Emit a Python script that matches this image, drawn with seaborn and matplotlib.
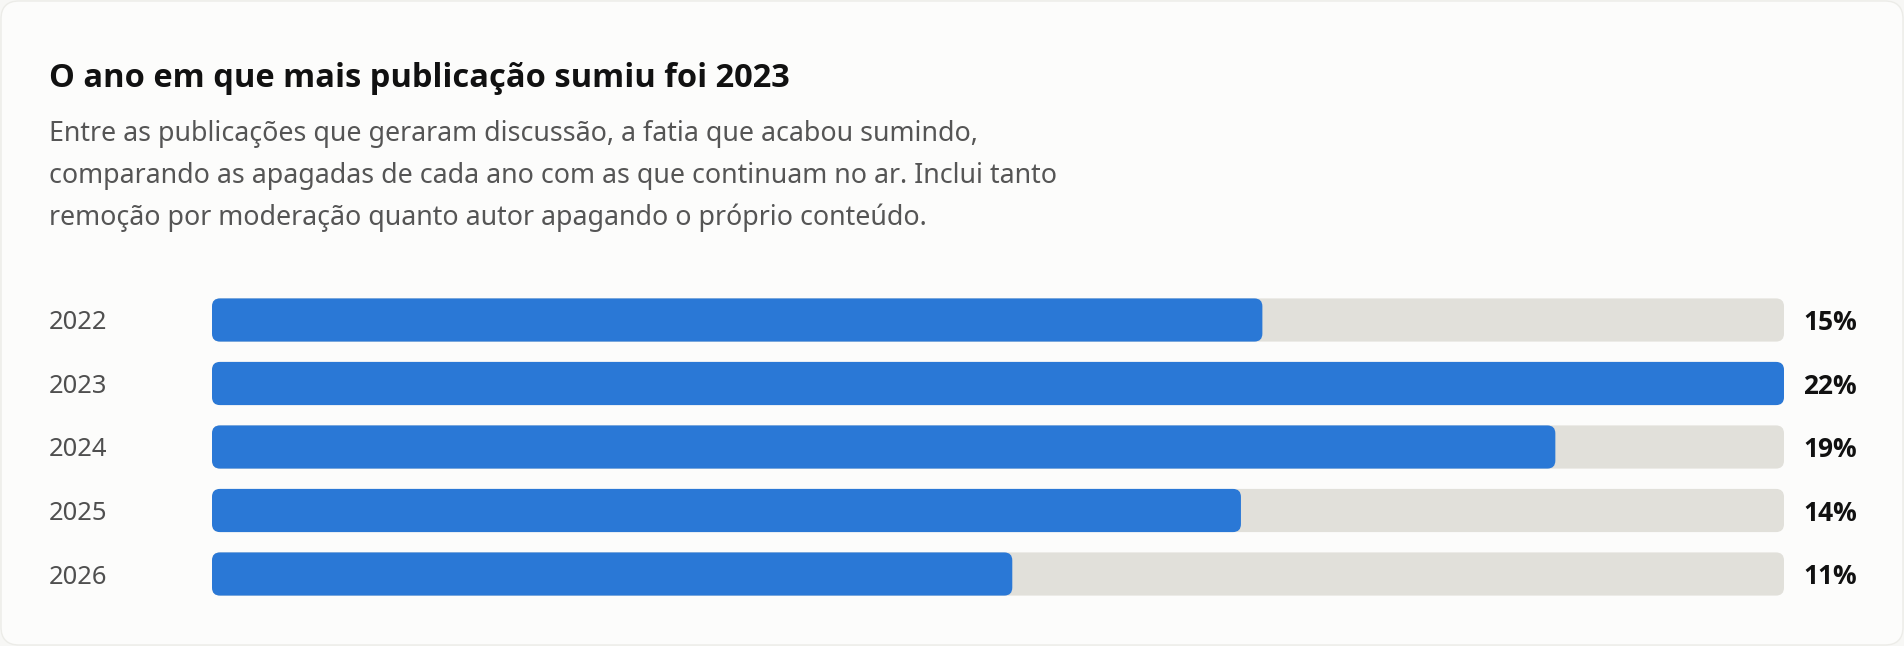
import pandas as pd
import seaborn as sns
import matplotlib.pyplot as plt
from matplotlib import font_manager
from matplotlib.patches import FancyBboxPatch

years = ["2022", "2023", "2024", "2025", "2026"]
share = [14.7, 22.0, 18.8, 14.4, 11.2]
labels = ["15%", "22%", "19%", "14%", "11%"]

title = "O ano em que mais publicação sumiu foi 2023"
subtitle = [
    "Entre as publicações que geraram discussão, a fatia que acabou sumindo,",
    "comparando as apagadas de cada ano com as que continuam no ar. Inclui tanto",
    "remoção por moderação quanto autor apagando o próprio conteúdo.",
]

BLUE = "#2A78D6"
TRACK = "#E1E0DA"
BG = "#FCFCFB"

W, H = 1904, 646
sns.set_theme(style="white")
plt.rcParams["font.family"] = ["Noto Sans", "DejaVu Sans"]


def bold_family():
    # pick a family that really has a bold face installed
    for name in ["Noto Sans", "Open Sans", "Lato", "DejaVu Sans"]:
        for f in font_manager.fontManager.ttflist:
            w = f.weight if isinstance(f.weight, int) else 700 * (f.weight == "bold")
            if f.name == name and w >= 600 and f.style == "normal":
                return name
    return "DejaVu Sans"


BOLD = [bold_family(), "DejaVu Sans"]

df = pd.DataFrame({"year": years, "share": share, "label": labels})
df["track"] = df["share"].max()

fig = plt.figure(figsize=(W / 100, H / 100), dpi=100)
fig.patch.set_facecolor("#F7F7F5")
card = FancyBboxPatch((1, 1), W - 2, H - 2, boxstyle="round,pad=0,rounding_size=18",
                      transform=None, facecolor=BG, edgecolor="#ECECE8",
                      linewidth=1, zorder=-10)
fig.patches.append(card)

# axes placed in pixel terms: bars from x=212 to 1784, rows centred 320..574
x0, x1 = 212, 1784
step = 63.5
top = 320 - step / 2
bottom = 574 + step / 2
ax = fig.add_axes([x0 / W, 1 - bottom / H, (x1 - x0) / W, (bottom - top) / H])
ax.set_facecolor("none")

sns.barplot(data=df, y="year", x="track", color=TRACK, width=0.68, ax=ax,
            orient="h", saturation=1)
sns.barplot(data=df, y="year", x="share", color=BLUE, width=0.68, ax=ax,
            orient="h", saturation=1)
ax.set_xlim(0, df["track"].max())
ax.set_ylim(len(years) - 0.5, -0.5)

# swap plain rectangles for rounded ones
xpp = df["track"].max() / (x1 - x0)
ypp = 1.0 / step
radius = 8 * xpp
for p in list(ax.patches):
    x, y = p.get_x(), p.get_y()
    w, h = p.get_width(), p.get_height()
    rp = FancyBboxPatch((x, y), w, h,
                        boxstyle=f"round,pad=0,rounding_size={radius}",
                        mutation_aspect=ypp / xpp,
                        facecolor=p.get_facecolor(), edgecolor="none")
    p.remove()
    ax.add_patch(rp)

ax.axis("off")

trans_y = ax.get_yaxis_transform()
for i, row in df.iterrows():
    ax.text((49 - x0) / (x1 - x0), i, row["year"], transform=trans_y,
            ha="left", va="center_baseline", fontsize=18.4, color="#4F4F4F")
    ax.text((1803 - x0) / (x1 - x0), i, row["label"], transform=trans_y,
            ha="left", va="center_baseline", fontsize=19, color="#111111",
            fontweight="bold", family=BOLD)

fig.text(49 / W, 1 - 87 / H, title, ha="left", va="baseline",
         fontsize=23.5, fontweight="bold", color="#111111", family=BOLD)
for k, line in enumerate(subtitle):
    fig.text(49 / W, 1 - (141 + 42 * k) / H, line, ha="left", va="baseline",
             fontsize=19.3, color="#555555")

fig.savefig("out.png", dpi=100, facecolor=fig.get_facecolor())
